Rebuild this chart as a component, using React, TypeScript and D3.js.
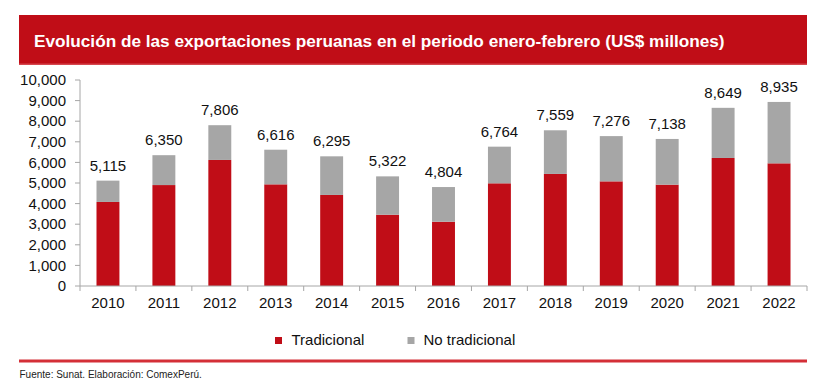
import React from "react";
import * as d3 from "d3";

const years = ["2010","2011","2012","2013","2014","2015","2016","2017","2018","2019","2020","2021","2022"];
const tradicional = [4080, 4900, 6120, 4935, 4420, 3460, 3120, 4985, 5440, 5080, 4920, 6215, 5955];
const noTradicional = [1035, 1450, 1686, 1681, 1875, 1862, 1684, 1779, 2119, 2196, 2218, 2434, 2980];
const totalLabels = ["5,115","6,350","7,806","6,616","6,295","5,322","4,804","6,764","7,559","7,276","7,138","8,649","8,935"];
const yTicks = [0, 1000, 2000, 3000, 4000, 5000, 6000, 7000, 8000, 9000, 10000];
const seriesNames = ["Tradicional", "No tradicional"];
const title = "Evolución de las exportaciones peruanas en el periodo enero-febrero (US$ millones)";
const source = "Fuente: Sunat. Elaboración: ComexPerú.";

const RED = "#c00d17";
const GRAY = "#a6a6a6";
const FONT = "'Liberation Sans', Arial, Helvetica, sans-serif";

export default function App() {
  const W = 819, H = 389;
  const x = d3.scaleBand<string>().domain(years).range([80, 807]).padding(0);
  const y = d3.scaleLinear().domain([0, 10000]).range([286, 80]);
  const bw = x.bandwidth() * 0.41;
  const fmt = d3.format(",");
  const boundaries = [...years.map((yr) => x(yr) as number), 807];

  return (
    <svg width={W} height={H} style={{ position: "absolute", left: 0, top: 0, background: "#fff" }} fontFamily={FONT}>
      <rect x={19} y={15} width={788} height={50} fill={RED} />
      <rect x={19} y={63.5} width={788} height={1.5} fill="#d6474e" />
      <text x={34} y={47} fill="#fff" fontSize={17.2} fontWeight="bold">{title}</text>

      {/* bars */}
      {years.map((yr, i) => {
        const cx = (x(yr) as number) + x.bandwidth() / 2;
        const t = tradicional[i];
        const n = noTradicional[i];
        return (
          <g key={yr}>
            <rect x={cx - bw / 2} y={y(t)} width={bw} height={y(0) - y(t)} fill={RED} />
            <rect x={cx - bw / 2} y={y(t + n)} width={bw} height={y(t) - y(t + n)} fill={GRAY} />
            <text x={cx} y={y(t + n) - 10} textAnchor="middle" fontSize={15} fill="#111">{totalLabels[i]}</text>
            <text x={cx} y={307.5} textAnchor="middle" fontSize={15} fill="#111">{yr}</text>
          </g>
        );
      })}

      {/* y axis */}
      <line x1={80} x2={80} y1={y(10000)} y2={y(0)} stroke="#a6a6a6" strokeWidth={1} />
      {yTicks.map((v) => (
        <g key={v}>
          <line x1={75} x2={80} y1={y(v)} y2={y(v)} stroke="#a6a6a6" strokeWidth={1} />
          <text x={66} y={y(v)} dy="0.35em" textAnchor="end" fontSize={15} fill="#111">{fmt(v)}</text>
        </g>
      ))}

      {/* x axis */}
      <line x1={80} x2={807} y1={y(0)} y2={y(0)} stroke="#a6a6a6" strokeWidth={1} />
      {boundaries.map((bx, i) => (
        <line key={i} x1={bx} x2={bx} y1={y(0)} y2={y(0) + 5} stroke="#a6a6a6" strokeWidth={1} />
      ))}

      {/* legend */}
      <rect x={275} y={337} width={7} height={7} fill={RED} />
      <text x={291.5} y={344.5} fontSize={15} fill="#111">{seriesNames[0]}</text>
      <rect x={407.5} y={337} width={7} height={7} fill={GRAY} />
      <text x={423.5} y={344.5} fontSize={15} fill="#111">{seriesNames[1]}</text>

      <rect x={19} y={359.5} width={788} height={3} fill="#d42f37" />
      <text x={19.5} y={378} fontSize={10} fill="#222">{source}</text>
    </svg>
  );
}
